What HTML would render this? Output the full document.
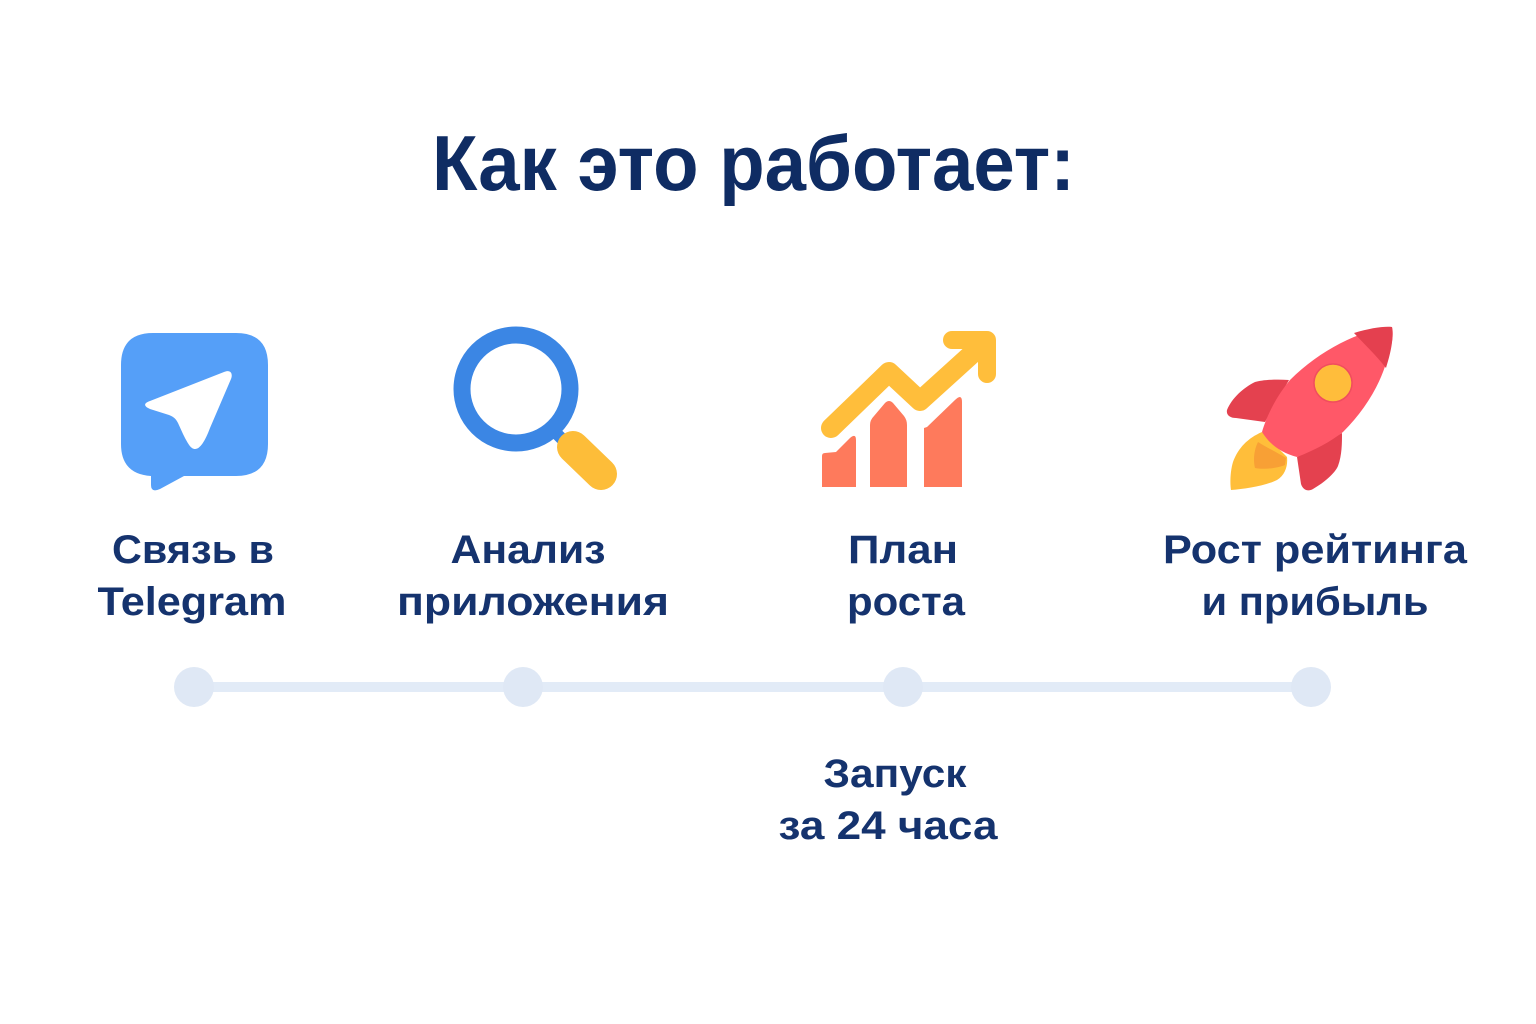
<!DOCTYPE html>
<html>
<head>
<meta charset="utf-8">
<style>
  html,body{margin:0;padding:0;background:#ffffff;}
  body{width:1536px;height:1024px;overflow:hidden;}
  svg{display:block;}
  text{font-family:"Liberation Sans","Noto Sans CJK SC",sans-serif;font-weight:bold;}
</style>
</head>
<body>
<svg width="1536" height="1024" viewBox="0 0 1536 1024" xmlns="http://www.w3.org/2000/svg">
  <rect width="1536" height="1024" fill="#ffffff"/>

  <!-- Title -->
  <text x="432" y="190" font-size="78" fill="#0f2c63" textLength="643" lengthAdjust="spacingAndGlyphs">Как это работает:</text>

  <!-- Telegram icon -->
  <path d="M153,333 H236 Q268,333 268,365 V444 Q268,476 236,476 H184 L160,489 Q151,493 151,485 V476 Q121,474 121,444 V365 Q121,333 153,333 Z" fill="#559ff8"/>
  <path d="M224,372 C231,369 233,374 231,379 L210,428 C204,444 198,452 192,448 C189,446 186,440 183,434 L178,423 C176,419 174,417 169,415 L150,409 C143,406 144,403 150,401 Z" fill="#ffffff"/>

  <!-- Magnifier icon -->
  <line x1="553" y1="430" x2="568" y2="445" stroke="#3b86e4" stroke-width="12"/>
  <circle cx="516" cy="389" r="54" fill="none" stroke="#3b86e4" stroke-width="17"/>
  <line x1="573" y1="447" x2="601" y2="474" stroke="#fdbd39" stroke-width="32" stroke-linecap="round"/>

  <!-- Chart icon -->
  <path d="M822,487 V456 Q822,453 825,453 L836,452 L850,438 Q856,433 856,440 V487 Z" fill="#fe7a5c"/>
  <path d="M870,487 V425 Q870,420 874,416 L885,403 Q889,399 893,403 L904,416 Q907,420 907,425 V487 Z" fill="#fe7a5c"/>
  <path d="M924,487 V428 L927,427 L955,400 Q962,393 962,402 V487 Z" fill="#fe7a5c"/>
  <polyline points="831,428 889,372 920,401 984,343" fill="none" stroke="#ffbe3b" stroke-width="20" stroke-linecap="round" stroke-linejoin="round"/>
  <polyline points="952,340 987,340 987,374" fill="none" stroke="#ffbe3b" stroke-width="18" stroke-linecap="round" stroke-linejoin="round"/>

  <!-- Rocket icon -->
  <path d="M1262,432 C1248,438 1238,448 1233,462 C1230,472 1230,484 1231,490 C1245,489 1265,486 1277,480 C1285,475 1288,466 1287,457 Z" fill="#ffbe3a"/>
  <path d="M1258,442 C1254,450 1253,460 1255,468 C1265,470 1278,468 1285,465 L1286,458 C1276,452 1266,447 1258,442 Z" fill="#f8a035"/>
  <path d="M1289,380 C1275,379 1262,380 1255,382 C1243,388 1232,398 1227,410 C1226,415 1230,418 1236,418 L1265,422 Z" fill="#e4414f"/>
  <path d="M1297,457 L1301,484 C1303,490 1308,492 1313,489 C1325,482 1335,473 1338,466 C1342,455 1342,443 1342,433 Z" fill="#e4414f"/>
  <path d="M1392,327 C1360,330 1320,350 1290,380 C1275,398 1266,418 1262,432 C1270,445 1282,453 1297,457 C1315,450 1330,442 1343,432 C1365,410 1380,385 1387,360 C1392,345 1394,335 1392,327 Z" fill="#ff5868"/>
  <path d="M1354,333 C1370,328 1385,326 1392,327 C1394,340 1390,355 1386,368 C1376,355 1364,344 1354,333 Z" fill="#e4404f"/>
  <circle cx="1333" cy="383" r="19" fill="#ffbd3b" stroke="#f04d5e" stroke-width="1.5"/>

  <!-- Labels -->
  <g font-size="40" fill="#15336e" text-anchor="middle">
    <text x="193" y="563" textLength="162" lengthAdjust="spacingAndGlyphs">Связь в</text>
    <text x="192" y="615" textLength="189" lengthAdjust="spacingAndGlyphs">Telegram</text>

    <text x="528" y="563" textLength="155" lengthAdjust="spacingAndGlyphs">Анализ</text>
    <text x="533" y="615" textLength="272" lengthAdjust="spacingAndGlyphs">приложения</text>

    <text x="903" y="563" textLength="110" lengthAdjust="spacingAndGlyphs">План</text>
    <text x="906" y="615" textLength="118" lengthAdjust="spacingAndGlyphs">роста</text>

    <text x="1315" y="563" textLength="304" lengthAdjust="spacingAndGlyphs">Рост рейтинга</text>
    <text x="1315" y="615" textLength="227" lengthAdjust="spacingAndGlyphs">и прибыль</text>

    <text x="895" y="787" textLength="143" lengthAdjust="spacingAndGlyphs">Запуск</text>
    <text x="888" y="839" textLength="219" lengthAdjust="spacingAndGlyphs">за 24 часа</text>
  </g>

  <!-- Timeline -->
  <line x1="194" y1="687" x2="1311" y2="687" stroke="#e2ebf7" stroke-width="10"/>
  <circle cx="194" cy="687" r="20" fill="#dfe8f5"/>
  <circle cx="523" cy="687" r="20" fill="#dfe8f5"/>
  <circle cx="903" cy="687" r="20" fill="#dfe8f5"/>
  <circle cx="1311" cy="687" r="20" fill="#dfe8f5"/>
</svg>
</body>
</html>
